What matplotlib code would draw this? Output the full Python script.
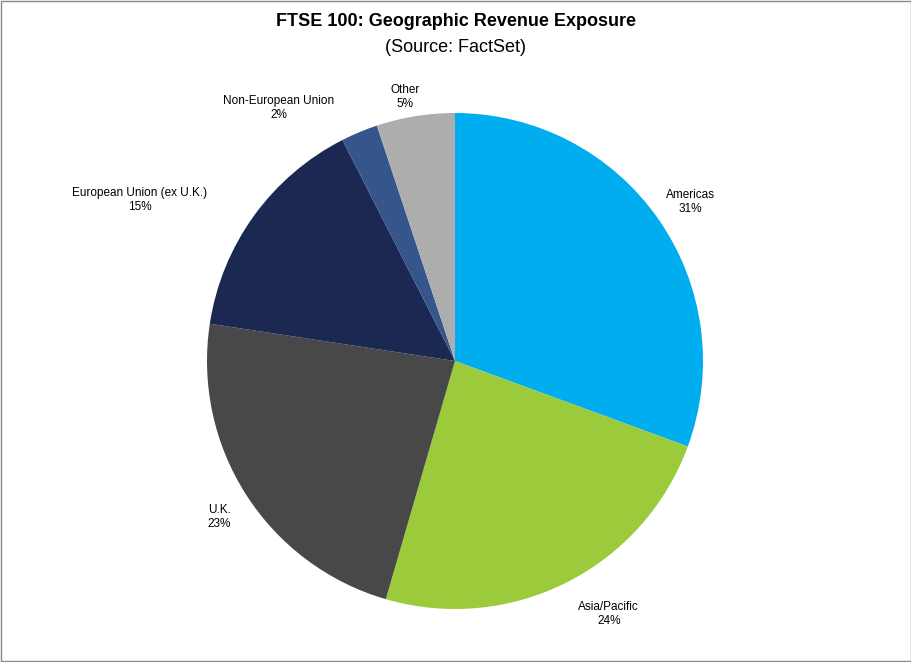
import matplotlib
matplotlib.use("Agg")
import matplotlib.pyplot as plt

categories = ["Americas", "Asia/Pacific", "U.K.", "European Union (ex U.K.)", "Non-European Union", "Other"]
values = [30.6, 23.9, 22.9, 15.1, 2.4, 5.1]
pct_labels = ["31%", "24%", "23%", "15%", "2%", "5%"]
colors = ["#00ADEF", "#9BCB3B", "#484848", "#1A2852", "#36558A", "#ADADAD"]
label_pos = [(0.95, 0.64), (0.62, -1.02), (-0.95, -0.63), (-1.27, 0.65), (-0.71, 1.02), (-0.2, 1.065)]

fig = plt.figure(figsize=(9.12, 6.62), dpi=100)
fig.patch.set_facecolor("white")
R = 248 / 662
cx, cy = 455 / 912, 1 - 361 / 662
ax = fig.add_axes([cx - R * 662 / 912, cy - R, 2 * R * 662 / 912, 2 * R])
wedges, _ = ax.pie(values, colors=colors, startangle=90, counterclock=False,
                   wedgeprops=dict(linewidth=0))
ax.set_xlim(-1, 1)
ax.set_ylim(-1, 1)
ax.set_aspect("equal")
for (x, y), c, p in zip(label_pos, categories, pct_labels):
    ax.text(x, y, f"{c}\n{p}", ha="center", va="center",
            fontsize=8.5, family="Liberation Sans", clip_on=False)
fig.text(0.5, 1 - 22 / 662, "FTSE 100: Geographic Revenue Exposure", ha="center", va="center",
         fontsize=13, fontweight="bold", family="Liberation Sans")
fig.text(0.5, 1 - 47 / 662, "(Source: FactSet)", ha="center", va="center",
         fontsize=13, family="Liberation Sans")
fig.add_artist(plt.Rectangle((0.001, 0.001), 0.998, 0.998, transform=fig.transFigure,
                             fill=False, edgecolor="#888888", linewidth=1))
fig.savefig("out.png", dpi=100)
